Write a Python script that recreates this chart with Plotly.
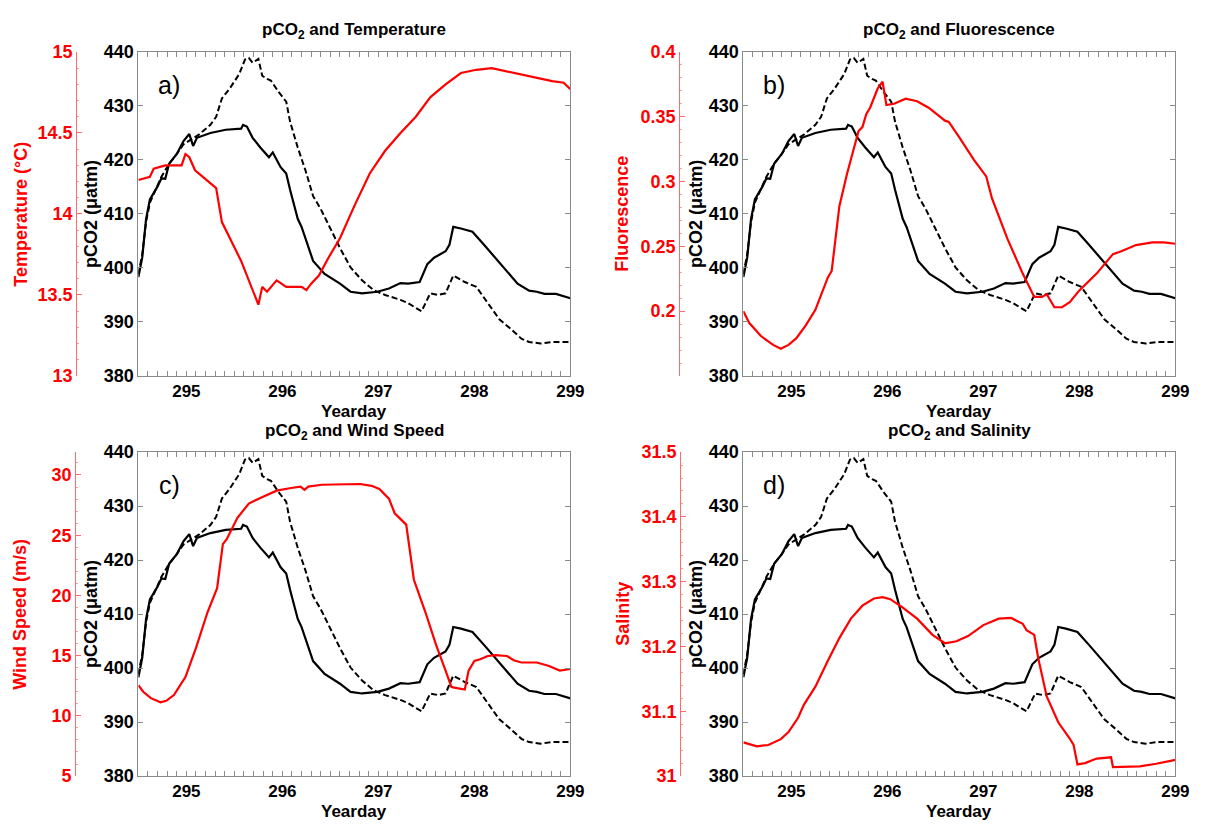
import plotly.graph_objects as go

# ---------------- data ----------------
day_solid = [294.5, 294.54, 294.58, 294.62, 294.70, 294.74, 294.78, 294.82, 294.90, 294.97, 295.03, 295.07,
             295.11, 295.25, 295.41, 295.57, 295.59, 295.63, 295.69, 295.77, 295.86, 295.90, 295.98, 296.04,
             296.08, 296.16, 296.20, 296.26, 296.32, 296.44, 296.60, 296.71, 296.83, 296.99, 297.11, 297.23,
             297.31, 297.43, 297.51, 297.58, 297.70, 297.74, 297.78, 297.86, 297.98, 298.10, 298.22, 298.34,
             298.45, 298.57, 298.65, 298.73, 298.85, 299.0]
pco2_solid = [398.3, 401.9, 409.1, 412.7, 415.1, 416.6, 416.5, 419.3, 421.1, 423.5, 424.8, 422.6,
              424.1, 425.0, 425.6, 425.8, 426.5, 426.2, 424.1, 422.3, 420.5, 421.4, 418.7, 417.5,
              414.5, 409.1, 407.6, 404.3, 401.3, 398.9, 397.1, 395.6, 395.3, 395.6, 396.2, 397.2,
              397.1, 397.4, 400.7, 401.9, 403.1, 404.3, 407.6, 407.3, 406.7, 404.3, 401.9, 399.5,
              397.1, 395.8, 395.6, 395.2, 395.2, 394.4]

day_dash = [294.5, 294.54, 294.58, 294.62, 294.74, 294.82, 294.90, 294.97, 295.05, 295.13, 295.25, 295.31,
            295.37, 295.45, 295.55, 295.61, 295.65, 295.69, 295.75, 295.79, 295.84, 295.88, 295.96, 296.04,
            296.08, 296.16, 296.24, 296.32, 296.40, 296.48, 296.60, 296.71, 296.83, 296.95, 297.07, 297.23,
            297.31, 297.39, 297.45, 297.54, 297.62, 297.70, 297.78, 297.90, 298.02, 298.14, 298.26, 298.38,
            298.49, 298.57, 298.69, 298.81, 299.0]
pco2_dash = [398.9, 402.5, 408.5, 412.1, 416.9, 419.3, 421.1, 422.9, 423.8, 424.7, 426.5, 428.0,
             431.4, 433.2, 435.9, 438.6, 438.9, 438.0, 438.7, 435.6, 435.0, 434.7, 432.6, 430.8,
             427.1, 422.3, 418.1, 413.3, 410.9, 407.9, 403.7, 400.1, 397.7, 395.9, 395.0, 394.1,
             393.5, 392.6, 392.0, 395.3, 395.0, 395.3, 398.6, 397.4, 396.5, 393.5, 390.5, 388.7,
             386.9, 386.3, 386.0, 386.3, 386.3]

day_temp = [294.5, 294.56, 294.62, 294.66, 294.78, 294.95, 294.99, 295.03, 295.09, 295.19, 295.31, 295.37,
            295.57, 295.75, 295.79, 295.84, 295.94, 296.04, 296.20, 296.25, 296.30, 296.38, 296.48, 296.60,
            296.75, 296.91, 297.07, 297.23, 297.39, 297.54, 297.70, 297.86, 298.02, 298.18, 298.34, 298.49,
            298.65, 298.81, 298.93, 299.0]
temperature = [14.21, 14.22, 14.23, 14.28, 14.30, 14.30, 14.37, 14.35, 14.27, 14.22, 14.16, 13.95,
               13.71, 13.44, 13.55, 13.52, 13.59, 13.55, 13.55, 13.53, 13.57, 13.62, 13.73, 13.85,
               14.05, 14.25, 14.39, 14.50, 14.60, 14.72, 14.80, 14.87, 14.89, 14.90, 14.88, 14.86,
               14.84, 14.82, 14.81, 14.77]

day_fluo = [294.5, 294.56, 294.68, 294.81, 294.89, 294.97, 295.05, 295.15, 295.25, 295.38, 295.42, 295.50,
            295.58, 295.70, 295.74, 295.78, 295.82, 295.86, 295.90, 295.95, 295.99, 296.07, 296.19, 296.31,
            296.43, 296.60, 296.64, 296.76, 296.90, 297.03, 297.09, 297.25, 297.41, 297.53, 297.61, 297.66,
            297.74, 297.82, 297.90, 298.00, 298.08, 298.18, 298.35, 298.43, 298.59, 298.76, 298.88, 299.0]
fluorescence = [0.200, 0.191, 0.181, 0.174, 0.171, 0.174, 0.179, 0.189, 0.201, 0.226, 0.231, 0.281,
                0.306, 0.339, 0.342, 0.352, 0.357, 0.364, 0.372, 0.377, 0.359, 0.360, 0.364, 0.362,
                0.357, 0.347, 0.346, 0.333, 0.317, 0.304, 0.287, 0.256, 0.229, 0.211, 0.211, 0.213,
                0.203, 0.203, 0.207, 0.216, 0.222, 0.229, 0.244, 0.246, 0.251, 0.253, 0.253, 0.252]

day_wind = [294.5, 294.55, 294.63, 294.73, 294.79, 294.87, 294.99, 295.10, 295.22, 295.32, 295.38, 295.42,
            295.53, 295.65, 295.77, 295.94, 296.09, 296.19, 296.23, 296.27, 296.41, 296.61, 296.81, 296.93,
            297.01, 297.11, 297.17, 297.29, 297.33, 297.37, 297.49, 297.60, 297.70, 297.76, 297.79, 297.84,
            297.90, 297.94, 298.00, 298.06, 298.14, 298.22, 298.34, 298.41, 298.49, 298.65, 298.77, 298.89, 299.0]
wind_speed = [12.54, 12.0, 11.47, 11.12, 11.25, 11.73, 13.22, 15.64, 18.6, 20.6, 24.26, 24.67,
              26.42, 27.63, 28.09, 28.7, 28.92, 29.03, 28.76, 29.03, 29.19, 29.25, 29.25, 29.1,
              28.84, 28.03, 26.82, 25.88, 23.72, 21.3, 18.6, 15.91, 13.76, 12.41, 12.35, 12.27,
              12.19, 13.76, 14.56, 14.7, 14.97, 15.05, 14.97, 14.62, 14.43, 14.43, 14.16, 13.76, 13.89]

day_sal = [294.5, 294.64, 294.76, 294.89, 294.97, 295.07, 295.13, 295.25, 295.38, 295.50, 295.62, 295.74,
           295.86, 295.95, 296.03, 296.15, 296.31, 296.47, 296.60, 296.72, 296.84, 297.0, 297.16, 297.29,
           297.41, 297.45, 297.53, 297.57, 297.66, 297.78, 297.90, 297.94, 297.98, 298.06, 298.18, 298.33,
           298.35, 298.47, 298.63, 298.80, 299.0]
salinity = [31.052, 31.046, 31.048, 31.057, 31.068, 31.090, 31.110, 31.138, 31.178, 31.213, 31.243, 31.263,
            31.274, 31.276, 31.273, 31.261, 31.243, 31.218, 31.205, 31.208, 31.216, 31.233, 31.243, 31.244,
            31.235, 31.225, 31.218, 31.183, 31.123, 31.083, 31.058, 31.048, 31.018, 31.020, 31.027, 31.029,
            31.014, 31.014, 31.015, 31.019, 31.025]

titles = ["pCO<sub>2</sub> and Temperature", "pCO<sub>2</sub> and Fluorescence",
          "pCO<sub>2</sub> and Wind Speed", "pCO<sub>2</sub> and Salinity"]
red_titles = ["Temperature (°C)", "Fluorescence", "Wind Speed (m/s)", "Salinity"]
panel_labels = ["a)", "b)", "c)", "d)"]
red_ranges = [[13, 15], [0.15, 0.4], [5, 31.9], [31, 31.5]]
red_ticks = [[13, 13.5, 14, 14.5, 15], [0.2, 0.25, 0.3, 0.35, 0.4], [5, 10, 15, 20, 25, 30],
             [31, 31.1, 31.2, 31.3, 31.4, 31.5]]
red_minor = [0.1, 0.01, 1, 0.02]
red_days = [day_temp, day_fluo, day_wind, day_sal]
red_vals = [temperature, fluorescence, wind_speed, salinity]
x_ticks = [295, 296, 297, 298, 299]
y_ticks = [380, 390, 400, 410, 420, 430, 440]

# ---------------- layout geometry (pixels) ----------------
W, H = 1220, 830
# (left, right, top, bottom, red-axis x)
boxes = [(140, 577, 43, 375, 77), (752, 1189, 43, 375, 687),
         (140, 577, 453, 785, 76), (752, 1189, 453, 785, 688)]


def px(x):
    return x / W


def py(y):
    return 1 - y / H


FONT = "Liberation Sans, Arial, sans-serif"
RED = "#ff0000"
GRID = "#8a8a8a"

fig = go.Figure()
layout = dict(width=W, height=H, margin=dict(l=0, r=0, t=0, b=0),
              paper_bgcolor="white", plot_bgcolor="white", showlegend=False,
              font=dict(family=FONT, color="black"))
annotations = []

for i in range(4):
    L, R, T, B, RX = boxes[i]
    xa = "x" if i == 0 else f"x{i+1}"
    ya = "y" if i == 0 else f"y{i+1}"
    yr = f"y{i+5}"
    xkey = "xaxis" if i == 0 else f"xaxis{i+1}"
    ykey = "yaxis" if i == 0 else f"yaxis{i+1}"
    rkey = f"yaxis{i+5}"

    fig.add_trace(go.Scatter(x=day_solid, y=pco2_solid, mode="lines", xaxis=xa, yaxis=ya,
                             line=dict(color="black", width=2.2)))
    fig.add_trace(go.Scatter(x=day_dash, y=pco2_dash, mode="lines", xaxis=xa, yaxis=ya,
                             line=dict(color="black", width=2, dash="6px,3px")))
    fig.add_trace(go.Scatter(x=red_days[i], y=red_vals[i], mode="lines", xaxis=xa, yaxis=yr,
                             line=dict(color=RED, width=2.2)))

    layout[xkey] = dict(domain=[px(L), px(R)], anchor=ya, range=[294.5, 299], tickvals=x_ticks,
                        showline=True, linecolor=GRID, linewidth=1, mirror="allticks",
                        ticks="inside", ticklen=5, tickcolor=GRID, showgrid=False, zeroline=False,
                        tickfont=dict(size=17, family=FONT, color="black", weight="bold"),
                        minor=dict(ticks="inside", dtick=0.1, ticklen=3, tickcolor=GRID, showgrid=False))
    layout[ykey] = dict(domain=[py(B), py(T)], anchor=xa, range=[380, 440], tickvals=y_ticks,
                        showline=True, linecolor=GRID, linewidth=1, mirror="allticks",
                        ticks="inside", ticklen=5, tickcolor=GRID, showgrid=False, zeroline=False,
                        tickfont=dict(size=18, family=FONT, color="black", weight="bold"))
    layout[rkey] = dict(overlaying=ya, anchor="free", position=px(RX), side="left",
                        range=red_ranges[i], tickvals=red_ticks[i], showgrid=False, zeroline=False,
                        showline=True, linecolor="#ff6a6a", linewidth=1,
                        ticks="inside", ticklen=5, tickcolor="#ff6a6a",
                        tickfont=dict(size=18, family=FONT, color=RED, weight="bold"),
                        minor=dict(ticks="inside", dtick=red_minor[i], ticklen=2,
                                   tickcolor="#ff9a9a", showgrid=False))

    cx = (L + R) / 2
    cy = (T + B) / 2
    annotations.append(dict(text=titles[i], x=px(cx), y=py(T - 21), xref="paper", yref="paper",
                            showarrow=False, xanchor="center", yanchor="middle",
                            font=dict(size=17, family=FONT, color="black", weight="bold")))
    annotations.append(dict(text="Yearday", x=px(cx), y=py(B + 36), xref="paper", yref="paper",
                            showarrow=False, xanchor="center", yanchor="middle",
                            font=dict(size=17, family=FONT, color="black", weight="bold")))
    annotations.append(dict(text="pCO2 (μatm)", x=px(L - 48), y=py(cy), xref="paper", yref="paper",
                            showarrow=False, xanchor="center", yanchor="middle", textangle=-90,
                            font=dict(size=18, family=FONT, color="black", weight="bold")))
    annotations.append(dict(text=red_titles[i], x=px(RX - 56 if i % 2 == 0 else RX - 58), y=py(cy),
                            xref="paper", yref="paper",
                            showarrow=False, xanchor="center", yanchor="middle", textangle=-90,
                            font=dict(size=18, family=FONT, color=RED, weight="bold")))
    annotations.append(dict(text=panel_labels[i], x=px(L + 31), y=py(T + 34), xref="paper", yref="paper",
                            showarrow=False, xanchor="center", yanchor="middle",
                            font=dict(size=25, family=FONT, color="black")))

layout["annotations"] = annotations
fig.update_layout(**layout)
fig.write_html("out.html")
